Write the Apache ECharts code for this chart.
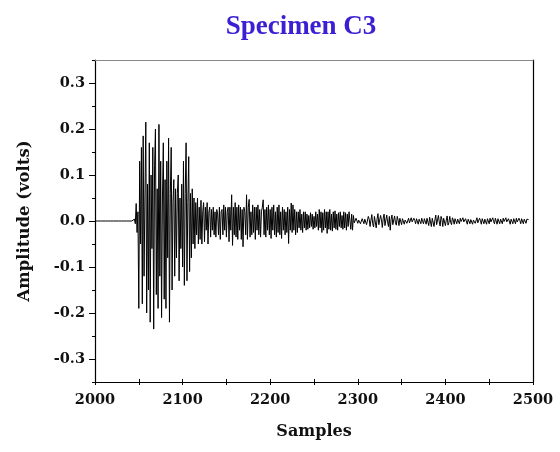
<!DOCTYPE html>
<html>
<head>
<meta charset="utf-8">
<title>Specimen C3</title>
<script src="https://cdn.jsdelivr.net/npm/echarts@6/dist/echarts.min.js"></script>
<style>
  html, body { margin: 0; padding: 0; background: #fff; }
  #chart { width: 560px; height: 452px; }
</style>
</head>
<body>
<div id="chart"></div>
<script>
const startSample = 2000

// amplitude (volts) per sample, starting at 2000
const amplitude = [
  0, 0, 0, 0, 0, 0, 0, 0, 0, 0,
  0, 0, 0, 0, 0, 0, 0, 0, 0, 0,
  0, 0, 0, 0, 0, 0, 0, 0, 0, 0,
  0, 0, 0, 0, 0, 0, 0, 0, 0, 0,
  0, 0, 0, 0, 0,
  0.004, -0.006, 0.038, -0.025, 0.02, -0.19, 0.13, -0.05, 0.16, -0.18,
  0.185, -0.12, 0.05, 0.215, -0.20, 0.08, -0.15, 0.17, -0.22, 0.10,
  -0.06, 0.16, -0.235, 0.12, 0.20, -0.16, 0.07, -0.19, 0.21, -0.12,
  0.13, -0.21, 0.05, 0.17, -0.17, 0.09, -0.19, 0.13, -0.08, 0.18,
  -0.22, 0.06, 0.16, -0.15, 0.04, 0.09, -0.12, 0.07, -0.08, 0.06,
  0.10, -0.13, 0.05, -0.06, 0.08, -0.10, 0.13, -0.14, 0.06, 0.17,
  -0.13, 0.04, 0.14, -0.11, 0.06, -0.08, 0.07, -0.05, 0.05, -0.06,
  0.04, -0.03, 0.05, -0.05, 0.03, -0.04, 0.045, -0.05, 0.02, 0.04,
  -0.045, 0.03, -0.02, 0.04, -0.05, 0.02, 0.03, -0.035, 0.025, -0.02,
  0.03, -0.03, 0.02, -0.035, 0.025, 0.015, -0.03, 0.03, -0.04, 0.02,
  0.025, -0.03, 0.035, -0.02, 0.03, -0.035, 0.02, 0.03, -0.045, 0.03,
  -0.02, 0.057, -0.053, 0.03, -0.03, 0.04, -0.035, 0.03, -0.04, 0.035,
  -0.02, 0.03, -0.04, 0.025, -0.056, 0.03, 0.02, -0.03, 0.057, -0.04,
  0.03, 0.047, -0.035, 0.02, -0.03, 0.035, -0.025, 0.03, -0.04, 0.03,
  -0.02, 0.035, -0.03, 0.025, -0.035, 0.02, 0.03, 0.046, -0.03, 0.025,
  -0.035, 0.03, -0.02, 0.035, -0.03, 0.025, -0.038, 0.03, -0.02, 0.035,
  -0.03, 0.02, -0.035, 0.03, -0.025, 0.035, -0.03, 0.02, -0.038, 0.03,
  -0.02, 0.025, -0.03, 0.02, -0.025, 0.03, -0.049, 0.025, -0.02, 0.039,
  -0.025, 0.035, -0.02, 0.025, -0.03, 0.02, -0.025, 0.02, -0.015, 0.025,
  -0.02, 0.015, -0.025, 0.02, -0.015, 0.02, -0.02, 0.015, -0.018, 0.012,
  -0.015, 0.018, -0.012, 0.015, -0.018, 0.01, -0.015, 0.02, -0.012, 0.015,
  -0.02, 0.025, -0.015, 0.02, -0.025, 0.018, -0.02, 0.025, -0.015, 0.02,
  -0.027, 0.02, -0.018, 0.025, -0.02, 0.015, -0.022, 0.02, -0.015, 0.022,
  -0.018, 0.015, -0.02, 0.018, -0.012, 0.02, -0.015, 0.012, -0.018, 0.02,
  -0.015, 0.018, -0.02, 0.015, -0.012, 0.02, 0.022, -0.018, 0.015, -0.02,
  0.012, -0.004, -0.008, 0.006, 0.004, -0.005, 0.002, 0.006, -0.006, -0.003,
  0.005, 0.002, -0.006, 0.004, 0.006, -0.008, -0.004, 0.01, 0.004, -0.012,
  0.002, 0.014, -0.006, -0.013, 0.01, 0.006, -0.015, 0.004, 0.016, -0.008,
  -0.012, 0.012, 0.003, -0.014, 0.006, 0.015, -0.01, -0.006, 0.013, -0.002,
  -0.012, 0.01, -0.02, 0.004, 0.013, -0.008, -0.005, 0.011, -0.004, -0.009,
  0.01, 0.002, -0.01, 0.006, 0.004, -0.008, 0.005, 0.003, -0.007, 0.002,
  0.006, -0.005, -0.002, 0.006, -0.004, -0.003, 0.007, -0.002, -0.005, 0.006,
  0.001, -0.006, 0.005, 0.002, -0.007, 0.004, 0.003, -0.006, 0.006, -0.001,
  -0.006, 0.005, 0.002, -0.007, 0.006, 0.003, -0.01, 0.008, 0.004, -0.012,
  0.006, 0.01, -0.012, 0.002, 0.013, -0.008, -0.006, 0.012, -0.002, -0.011,
  0.01, 0.004, -0.012, 0.006, 0.009, -0.01, 0.002, 0.011, -0.009, -0.004,
  0.01, -0.003, -0.008, 0.007, 0.002, -0.007, 0.005, 0.003, -0.006, 0.004,
  0.002, -0.006, 0.006, -0.001, -0.005, 0.007, -0.002, -0.006, 0.005, 0.003,
  -0.007, 0.004, 0.004, -0.006, 0.003, 0.005, -0.007, 0.002, 0.006, -0.005,
  -0.002, 0.007, -0.004, -0.004, 0.006, 0.001, -0.007, 0.005, 0.003, -0.006,
  0.004, 0.003, -0.007, 0.005, 0.002, -0.006, 0.006, -0.002, -0.005, 0.007,
  -0.001, -0.006, 0.006, 0.002, -0.007, 0.005, 0.003, -0.006, 0.004, 0.002,
  -0.006, 0.006, -0.001, -0.005, 0.007, -0.002, -0.006, 0.005, 0.003, -0.007,
  0.004, 0.003, -0.006, 0.005, 0.001, -0.006, 0.006, -0.002, -0.005, 0.006,
  0.001, -0.006, 0.005, 0.002, -0.006, 0.004, 0.003, -0.005, 0.004, 0.001,
  0.003
]

const yTickLabels = [-0.3, -0.2, -0.1, 0, 0.1, 0.2, 0.3]
const yMinorTicks = [-0.35, -0.25, -0.15, -0.05, 0.05, 0.15, 0.25, 0.35]

const seriesData = amplitude.map((v, i) => [startSample + i, v])

const fontFamily = '"DejaVu Serif", serif'
const labelStyle = { color: '#111', fontFamily, fontWeight: 'bold', fontSize: 14.5 }

const chart = echarts.init(document.getElementById('chart'), null, { renderer: 'canvas' })

chart.setOption({
  animation: false,
  backgroundColor: '#fff',
  title: {
    text: 'Specimen C3',
    left: 296,
    top: 9,
    textAlign: 'center',
    textStyle: {
      color: '#3a1fd3',
      fontFamily: '"Liberation Serif", serif',
      fontWeight: 'bold',
      fontSize: 27
    }
  },
  grid: {
    left: 95,
    right: 27,
    top: 60,
    bottom: 70,
    outerBoundsMode: 'none'
  },
  xAxis: [
    {
      type: 'value',
      position: 'bottom',
      min: 2000,
      max: 2500,
      interval: 100,
      name: 'Samples',
      nameLocation: 'middle',
      nameGap: 42,
      nameTextStyle: { color: '#111', fontFamily, fontWeight: 'bold', fontSize: 16 },
      axisLine: { show: true, onZero: false, lineStyle: { color: '#000', width: 1.2 } },
      axisTick: { show: true, inside: false, length: 3, lineStyle: { color: '#000' } },
      minorTick: { show: true, splitNumber: 2, length: 3, lineStyle: { color: '#000' } },
      axisLabel: {
        ...labelStyle,
        margin: 11,
        showMinLabel: true,
        showMaxLabel: true,
        hideOverlap: false,
        formatter: v => String(v)
      },
      splitLine: { show: false },
      minorSplitLine: { show: false }
    },
    {
      // inner half of the bottom ticks
      type: 'value',
      position: 'bottom',
      min: 2000,
      max: 2500,
      interval: 100,
      axisLine: { show: false, onZero: false },
      axisTick: { show: true, inside: true, length: 3, lineStyle: { color: '#000' } },
      minorTick: { show: true, splitNumber: 2, length: 3, lineStyle: { color: '#000' } },
      axisLabel: { show: false },
      splitLine: { show: false }
    },
    {
      // top frame line
      type: 'value',
      position: 'top',
      min: 2000,
      max: 2500,
      axisLine: { show: true, onZero: false, lineStyle: { color: '#888', width: 1.2 } },
      axisTick: { show: false },
      axisLabel: { show: false },
      splitLine: { show: false }
    }
  ],
  yAxis: [
    {
      type: 'value',
      position: 'left',
      min: -0.35,
      max: 0.35,
      name: 'Amplitude (volts)',
      nameLocation: 'middle',
      nameGap: 62,
      nameTextStyle: { color: '#111', fontFamily, fontWeight: 'bold', fontSize: 16.5 },
      axisLine: { show: true, onZero: false, lineStyle: { color: '#000', width: 1.2 } },
      axisTick: { show: true, length: 6, customValues: yTickLabels, lineStyle: { color: '#000' } },
      axisLabel: {
        ...labelStyle,
        margin: 10,
        customValues: yTickLabels,
        formatter: v => v.toFixed(1)
      },
      splitLine: { show: false }
    },
    {
      // minor ticks between the labelled ones
      type: 'value',
      position: 'left',
      min: -0.35,
      max: 0.35,
      axisLine: { show: false, onZero: false },
      axisTick: { show: true, length: 3, customValues: yMinorTicks, lineStyle: { color: '#000' } },
      axisLabel: { show: false },
      splitLine: { show: false }
    },
    {
      // right frame line
      type: 'value',
      position: 'right',
      min: -0.35,
      max: 0.35,
      axisLine: { show: true, onZero: false, lineStyle: { color: '#000', width: 1.2 } },
      axisTick: { show: false },
      axisLabel: { show: false },
      splitLine: { show: false }
    }
  ],
  series: [{
    type: 'line',
    xAxisIndex: 0,
    yAxisIndex: 0,
    data: seriesData,
    showSymbol: false,
    symbol: 'none',
    smooth: false,
    lineStyle: { color: '#000', width: 1 },
    emphasis: { disabled: true }
  }]
})
</script>
</body>
</html>
